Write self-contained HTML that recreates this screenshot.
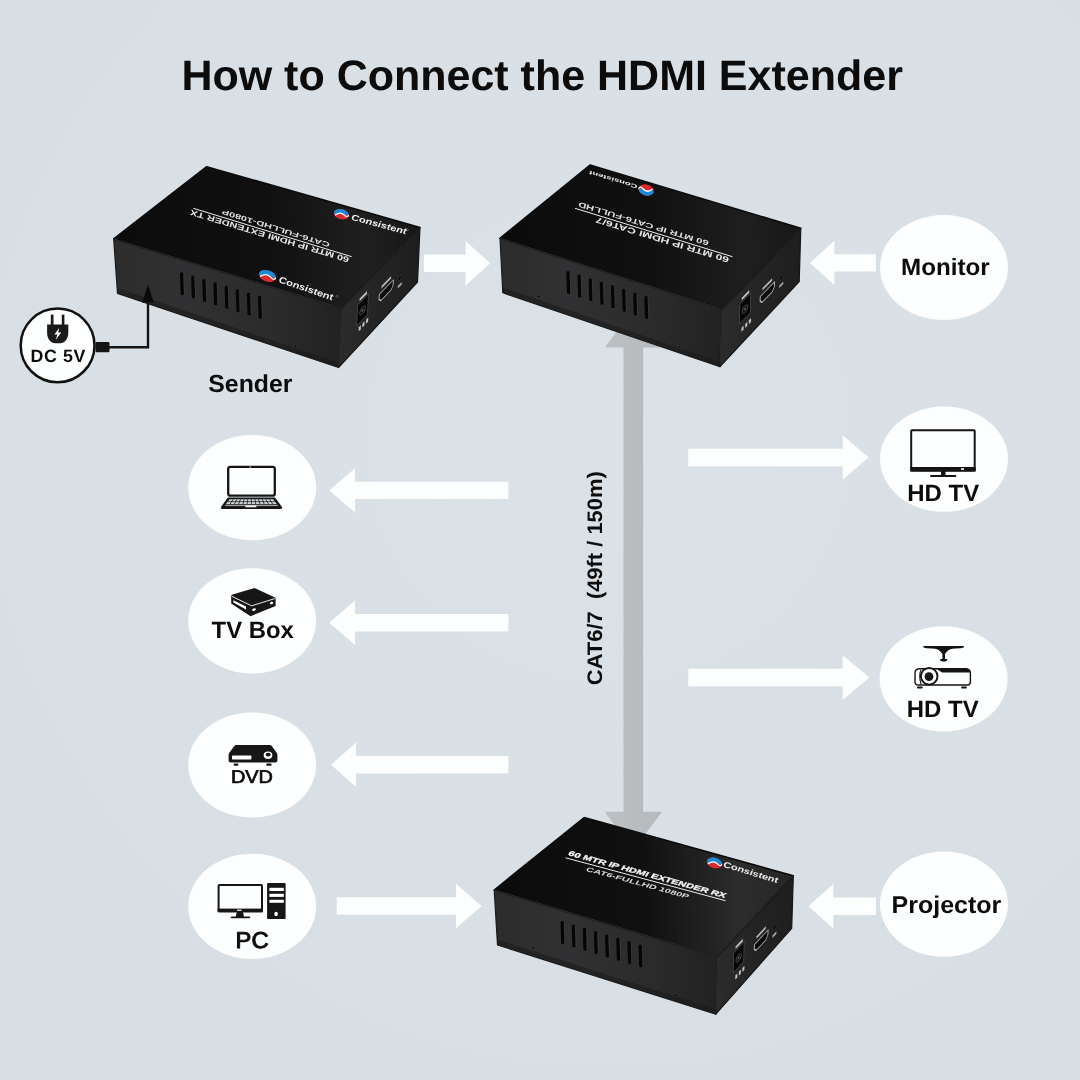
<!DOCTYPE html>
<html><head><meta charset="utf-8"><title>How to Connect the HDMI Extender</title>
<style>
html,body{margin:0;padding:0;background:#d9e0e5;}
body{width:1080px;height:1080px;overflow:hidden;font-family:"Liberation Sans",sans-serif;}
svg{display:block;will-change:opacity;opacity:0.9999}
text{text-rendering:geometricPrecision}
text{font-family:"Liberation Sans",sans-serif;}
.b{font-weight:700;fill:#0c0c0c}
</style></head><body>
<svg width="1080" height="1080" viewBox="0 0 1080 1080">
<defs>
<radialGradient id="bg" gradientUnits="userSpaceOnUse" cx="610" cy="440" r="880">
<stop offset="0" stop-color="#dbe2e7"/><stop offset="0.6" stop-color="#d9e0e5"/><stop offset="1" stop-color="#d6dde3"/></radialGradient>
<linearGradient id="gFront" x1="0" y1="0" x2="1" y2="0"><stop offset="0" stop-color="#2c2c2d"/><stop offset="0.3" stop-color="#313133"/><stop offset="0.7" stop-color="#2b2b2c"/><stop offset="1" stop-color="#222223"/></linearGradient>
<linearGradient id="gRight" x1="0" y1="0" x2="1" y2="0"><stop offset="0" stop-color="#2c2c2d"/><stop offset="0.5" stop-color="#242425"/><stop offset="1" stop-color="#1e1e1f"/></linearGradient>
<linearGradient id="gCable" x1="0" y1="0" x2="1" y2="0"><stop offset="0" stop-color="#bcc0c2"/><stop offset="1" stop-color="#b5b9bb"/></linearGradient>

<linearGradient id="gTop_tx" gradientUnits="userSpaceOnUse" x1="113.7" y1="239" x2="420" y2="227.5"><stop offset="0" stop-color="#0b0b0c"/><stop offset="0.5" stop-color="#101011"/><stop offset="0.82" stop-color="#1f1f20"/><stop offset="1" stop-color="#171718"/></linearGradient>
<linearGradient id="gTop_rx1" gradientUnits="userSpaceOnUse" x1="500" y1="238.3" x2="800.8" y2="228.3"><stop offset="0" stop-color="#0b0b0c"/><stop offset="0.5" stop-color="#101011"/><stop offset="0.82" stop-color="#1f1f20"/><stop offset="1" stop-color="#171718"/></linearGradient>
<linearGradient id="gTop_rx2" gradientUnits="userSpaceOnUse" x1="494.2" y1="890" x2="793.3" y2="875.8"><stop offset="0" stop-color="#0b0b0c"/><stop offset="0.5" stop-color="#101011"/><stop offset="0.82" stop-color="#2c2c2d"/><stop offset="1" stop-color="#262627"/></linearGradient>
</defs>
<rect width="1080" height="1080" fill="url(#bg)"/>
<text class="b" x="181.4" y="90.2" font-size="42.6" textLength="721.5" lengthAdjust="spacingAndGlyphs">How to Connect the HDMI Extender</text>
<polygon fill="url(#gCable)" points="633.3,309 661.8,347.6 643.1,347.6 643.1,811.7 662.1,811.7 633.3,850 604.5,811.7 623.5,811.7 623.5,347.6 604.8,347.6"/>
<g fill="#fdfefe">
<polygon points="490.2,263.2 465.6,241 465.6,254.5 423.9,254.5 423.9,271.9 465.6,271.9 465.6,285.4"/>
<polygon points="810,262.9 834.3,240.7 834.3,254.2 875.8,254.2 875.8,271.6 834.3,271.6 834.3,285.1"/>
<polygon points="329.3,490.4 355,468.2 355,481.7 508.3,481.7 508.3,499.1 355,499.1 355,512.6"/>
<polygon points="329.3,622.8 355,600.6 355,614.1 508.3,614.1 508.3,631.5 355,631.5 355,645"/>
<polygon points="331,764.8 356,742.6 356,756.1 508.3,756.1 508.3,773.5 356,773.5 356,787"/>
<polygon points="481.7,906 456,883.8 456,897.3 336.7,897.3 336.7,914.7 456,914.7 456,928.2"/>
<polygon points="868.5,457.5 842.7,435.3 842.7,448.8 688.3,448.8 688.3,466.2 842.7,466.2 842.7,479.7"/>
<polygon points="869.3,677.5 842.7,655.3 842.7,668.8 688.3,668.8 688.3,686.2 842.7,686.2 842.7,699.7"/>
<polygon points="808.3,906.2 833.3,884 833.3,897.5 876,897.5 876,914.9 833.3,914.9 833.3,928.4"/>
<ellipse cx="252.2" cy="487.7" rx="64" ry="52.6"/>
<ellipse cx="252.2" cy="620.8" rx="64" ry="52.6"/>
<ellipse cx="252.2" cy="765" rx="64" ry="52.6"/>
<ellipse cx="252.2" cy="906.3" rx="64" ry="52.6"/>
<ellipse cx="944" cy="267.5" rx="64" ry="52.6"/>
<ellipse cx="944" cy="459.2" rx="64" ry="52.6"/>
<ellipse cx="943.6" cy="678.8" rx="64" ry="52.6"/>
<ellipse cx="944" cy="904.2" rx="64" ry="52.6"/>
</g>
<g>
<polyline points="104,347.2 148,347.2 148,300" fill="none" stroke="#141414" stroke-width="2.4" stroke-linejoin="miter"/>
<rect x="95.5" y="342.1" width="14" height="10.2" rx="1.2" fill="#141414"/>
<circle cx="57.6" cy="345.4" r="36.9" fill="#fdfefe" stroke="#111" stroke-width="2.5"/>
<g fill="#1a1a1a"><rect x="50.8" y="314.6" width="2.7" height="11" /><rect x="61.8" y="314.6" width="2.6" height="11"/><path d="M47.1 324.6 H68.3 V333 C68.3 339.5 64 343.3 60.5 343.3 H55 C51.3 343.3 47.1 339.5 47.1 333 Z"/></g>
<path d="M59.2 328 L54.4 334.6 H57.4 L55.8 339.8 L61.2 332.6 H58.2 Z" fill="#fff"/>
<text class="b" x="30.4" y="361.9" font-size="17.8" textLength="55" lengthAdjust="spacing">DC 5V</text>
</g>
<g id="tx">
<polygon points="113.7,239 341.5,308 338.5,367.5 117.5,293.5" fill="url(#gFront)" stroke="#1c1c1d" stroke-width="1.2" stroke-linejoin="round"/>
<polygon points="341.5,308 420,227.5 417.5,282 338.5,367.5" fill="url(#gRight)" stroke="#151516" stroke-width="1.2" stroke-linejoin="round"/>
<polygon points="206.7,166.7 420,227.5 341.5,308 113.7,239" fill="url(#gTop_tx)" stroke="#0b0b0c" stroke-width="1.6" stroke-linejoin="round"/>
<polyline points="113.7,239 341.5,308 420,227.5" fill="none" stroke="#3a3a3c" stroke-width="0.9" stroke-linejoin="round" opacity="0.9"/>
<line x1="341.5" y1="309" x2="338.5" y2="366.5" stroke="#333335" stroke-width="0.8"/>
<polygon points="117.12,288.05 338.74,362.74 338.5,367.5 117.5,293.5" fill="#19191a" opacity="0.55"/>
<line x1="181.7" y1="273.9" x2="182.3" y2="293.5" stroke="#050505" stroke-width="3.4" stroke-linecap="round"/>
<line x1="183.8" y1="274.2" x2="184.4" y2="293.2" stroke="#3f3f41" stroke-width="0.6" stroke-linecap="round"/>
<line x1="192.85" y1="277.27" x2="193.45" y2="296.87" stroke="#050505" stroke-width="3.4" stroke-linecap="round"/>
<line x1="194.95" y1="277.57" x2="195.55" y2="296.57" stroke="#3f3f41" stroke-width="0.6" stroke-linecap="round"/>
<line x1="204" y1="280.65" x2="204.6" y2="300.25" stroke="#050505" stroke-width="3.4" stroke-linecap="round"/>
<line x1="206.1" y1="280.95" x2="206.7" y2="299.95" stroke="#3f3f41" stroke-width="0.6" stroke-linecap="round"/>
<line x1="215.15" y1="284.03" x2="215.75" y2="303.63" stroke="#050505" stroke-width="3.4" stroke-linecap="round"/>
<line x1="217.25" y1="284.33" x2="217.85" y2="303.33" stroke="#3f3f41" stroke-width="0.6" stroke-linecap="round"/>
<line x1="226.3" y1="287.41" x2="226.9" y2="307.01" stroke="#050505" stroke-width="3.4" stroke-linecap="round"/>
<line x1="228.4" y1="287.71" x2="229" y2="306.71" stroke="#3f3f41" stroke-width="0.6" stroke-linecap="round"/>
<line x1="237.45" y1="290.78" x2="238.05" y2="310.38" stroke="#050505" stroke-width="3.4" stroke-linecap="round"/>
<line x1="239.55" y1="291.08" x2="240.15" y2="310.08" stroke="#3f3f41" stroke-width="0.6" stroke-linecap="round"/>
<line x1="248.6" y1="294.16" x2="249.2" y2="313.76" stroke="#050505" stroke-width="3.4" stroke-linecap="round"/>
<line x1="250.7" y1="294.46" x2="251.3" y2="313.46" stroke="#3f3f41" stroke-width="0.6" stroke-linecap="round"/>
<line x1="259.75" y1="297.54" x2="260.35" y2="317.14" stroke="#050505" stroke-width="3.4" stroke-linecap="round"/>
<line x1="261.85" y1="297.84" x2="262.45" y2="316.84" stroke="#3f3f41" stroke-width="0.6" stroke-linecap="round"/>
<circle cx="295.61" cy="346.05" r="1.6" fill="#0c0c0c" stroke="#454547" stroke-width="0.6"/>
<g transform="matrix(0.785 -0.805 -0.05 0.9917 341.5 308)">
<g transform="translate(0 0)">
<rect x="21.5" y="14.5" width="13.8" height="21" rx="1" fill="#070707" stroke="#4a4a4d" stroke-width="1"/>
<circle cx="28.4" cy="25.5" r="3.6" fill="#131314" stroke="#4c4c50" stroke-width="0.8"/>
<circle cx="28.4" cy="25.5" r="1.1" fill="#77777b"/>
<rect x="23.8" y="9.8" width="9.4" height="2.8" fill="#c4c4c4"/>
<rect x="24.6" y="39.3" width="2.6" height="4.2" fill="#c8c8c8"/>
<rect x="29.3" y="39.3" width="2.6" height="4.2" fill="#c8c8c8"/>
<rect x="34" y="39.3" width="2.6" height="4.2" fill="#c8c8c8"/>
</g>
<g transform="translate(0 0)">
<path d="M49.8 26.8 h18 v4.8 l-2.6 3.4 h-12.8 l-2.6 -3.4 z" fill="#090909" stroke="#b4b4b8" stroke-width="1.25" stroke-linejoin="round"/>
<rect x="52.4" y="20.2" width="12.2" height="2.6" fill="#b8b8b8"/>
</g>
<g transform="translate(0 0)">
<circle cx="76.4" cy="31.8" r="2.3" fill="#070707" stroke="#363638" stroke-width="0.7"/>
<rect x="74.2" y="38" width="5" height="2.6" fill="#b0b0b0"/>
</g>
</g>
<line x1="193.3" y1="208.3" x2="351.7" y2="256.7" stroke="#ececec" stroke-width="1"/>
<text transform="matrix(-0.9573 -0.2891 0.2707 -0.9627 349.56 257.5)" x="0" y="0" font-size="7.68" font-weight="700" fill="#e6e6e6" textLength="165.36" lengthAdjust="spacingAndGlyphs">60 MTR IP HDMI EXTENDER TX</text>
<text transform="matrix(-0.955 -0.2967 0.2707 -0.9627 330.18 242.79)" x="0" y="0" font-size="6.86" font-weight="700" fill="#dedede" textLength="112.57" lengthAdjust="spacingAndGlyphs">CAT6-FULLHD-1080P</text>
<g transform="translate(341.3 214.2) rotate(15)">
<ellipse cx="0" cy="0" rx="7.6" ry="5" fill="#dc2a2e"/>
<path d="M-7.6 0.4 A7.6 5 0 0 1 7.6 -0.4 Q4.56 -0.75 2.28 -0.5 Q-1.14 -1.75 -4.18 1.5 Q-6.08 2.25 -7.6 0.4 Z" fill="#1a8bd6"/>
<path d="M-5.47 2.1 Q-1.52 -2.5 2.66 -0.1 T7.22 -0.5" stroke="#fff" stroke-width="1.2" fill="none" stroke-linecap="round"/>
</g>
<text transform="matrix(0.9656 0.2598 -0.1595 0.9872 351.01 219.66)" x="0" y="0" font-size="8.5" font-weight="700" font-style="italic" fill="#f2f2f2" textLength="56.96" lengthAdjust="spacingAndGlyphs">Consistent</text>
<g transform="translate(267.4 276) rotate(19)">
<ellipse cx="0" cy="0" rx="8.8" ry="5.6" fill="#dc2a2e"/>
<path d="M-8.8 0.4 A8.8 5.6 0 0 1 8.8 -0.4 Q5.28 -0.84 2.64 -0.56 Q-1.32 -1.96 -4.84 1.68 Q-7.04 2.52 -8.8 0.4 Z" fill="#1a8bd6"/>
<path d="M-6.34 2.35 Q-1.76 -2.8 3.08 -0.11 T8.36 -0.56" stroke="#fff" stroke-width="1.34" fill="none" stroke-linecap="round"/>
</g>
<text transform="matrix(0.9466 0.3225 -0.1595 0.9872 278.47 282.16)" x="0" y="0" font-size="9.05" font-weight="700" font-style="italic" fill="#f2f2f2" textLength="57.05" lengthAdjust="spacingAndGlyphs">Consistent</text>
<circle cx="407.5" cy="229.8" r="1" fill="none" stroke="#bbb" stroke-width="0.3"/>
<circle cx="337" cy="296.3" r="1" fill="none" stroke="#bbb" stroke-width="0.3"/>
</g>
<polygon points="148,284.8 153.9,302.6 142.3,302.6" fill="#0a0a0a"/>
<g id="rx1">
<polygon points="500,238.3 721.7,309.1 720,366.7 502.8,292.8" fill="url(#gFront)" stroke="#1c1c1d" stroke-width="1.2" stroke-linejoin="round"/>
<polygon points="721.7,309.1 800.8,228.3 799.2,281.7 720,366.7" fill="url(#gRight)" stroke="#151516" stroke-width="1.2" stroke-linejoin="round"/>
<polygon points="590,165 800.8,228.3 721.7,309.1 500,238.3" fill="url(#gTop_rx1)" stroke="#0b0b0c" stroke-width="1.6" stroke-linejoin="round"/>
<polyline points="500,238.3 721.7,309.1 800.8,228.3" fill="none" stroke="#3a3a3c" stroke-width="0.9" stroke-linejoin="round" opacity="0.9"/>
<line x1="721.7" y1="310.1" x2="720" y2="365.7" stroke="#333335" stroke-width="0.8"/>
<polygon points="502.52,287.35 720.14,362.09 720,366.7 502.8,292.8" fill="#19191a" opacity="0.55"/>
<line x1="568" y1="272.72" x2="568.6" y2="292.32" stroke="#050505" stroke-width="3.4" stroke-linecap="round"/>
<line x1="570.1" y1="273.02" x2="570.7" y2="292.02" stroke="#3f3f41" stroke-width="0.6" stroke-linecap="round"/>
<line x1="579.15" y1="276.28" x2="579.75" y2="295.88" stroke="#050505" stroke-width="3.4" stroke-linecap="round"/>
<line x1="581.25" y1="276.58" x2="581.85" y2="295.58" stroke="#3f3f41" stroke-width="0.6" stroke-linecap="round"/>
<line x1="590.3" y1="279.84" x2="590.9" y2="299.44" stroke="#050505" stroke-width="3.4" stroke-linecap="round"/>
<line x1="592.4" y1="280.14" x2="593" y2="299.14" stroke="#3f3f41" stroke-width="0.6" stroke-linecap="round"/>
<line x1="601.45" y1="283.4" x2="602.05" y2="303" stroke="#050505" stroke-width="3.4" stroke-linecap="round"/>
<line x1="603.55" y1="283.7" x2="604.15" y2="302.7" stroke="#3f3f41" stroke-width="0.6" stroke-linecap="round"/>
<line x1="612.6" y1="286.96" x2="613.2" y2="306.56" stroke="#050505" stroke-width="3.4" stroke-linecap="round"/>
<line x1="614.7" y1="287.26" x2="615.3" y2="306.26" stroke="#3f3f41" stroke-width="0.6" stroke-linecap="round"/>
<line x1="623.75" y1="290.52" x2="624.35" y2="310.12" stroke="#050505" stroke-width="3.4" stroke-linecap="round"/>
<line x1="625.85" y1="290.82" x2="626.45" y2="309.82" stroke="#3f3f41" stroke-width="0.6" stroke-linecap="round"/>
<line x1="634.9" y1="294.08" x2="635.5" y2="313.68" stroke="#050505" stroke-width="3.4" stroke-linecap="round"/>
<line x1="637" y1="294.38" x2="637.6" y2="313.38" stroke="#3f3f41" stroke-width="0.6" stroke-linecap="round"/>
<line x1="646.05" y1="297.64" x2="646.65" y2="317.24" stroke="#050505" stroke-width="3.4" stroke-linecap="round"/>
<line x1="648.15" y1="297.94" x2="648.75" y2="316.94" stroke="#3f3f41" stroke-width="0.6" stroke-linecap="round"/>
<circle cx="538.53" cy="296.27" r="1.6" fill="#0c0c0c" stroke="#454547" stroke-width="0.6"/>
<circle cx="679.91" cy="346.76" r="1.6" fill="#0c0c0c" stroke="#454547" stroke-width="0.6"/>
<g transform="matrix(0.791 -0.808 -0.0283 0.96 721.7 309.1)">
<g transform="translate(2 0)">
<rect x="21.5" y="14.5" width="13.8" height="21" rx="1" fill="#070707" stroke="#4a4a4d" stroke-width="1"/>
<circle cx="28.4" cy="25.5" r="3.6" fill="#131314" stroke="#4c4c50" stroke-width="0.8"/>
<circle cx="28.4" cy="25.5" r="1.1" fill="#77777b"/>
<rect x="23.8" y="9.8" width="9.4" height="2.8" fill="#c4c4c4"/>
<rect x="24.6" y="41.8" width="2.6" height="4.2" fill="#c8c8c8"/>
<rect x="29.3" y="41.8" width="2.6" height="4.2" fill="#c8c8c8"/>
<rect x="34" y="41.8" width="2.6" height="4.2" fill="#c8c8c8"/>
</g>
<g transform="translate(0 2)">
<path d="M49.8 26.8 h18 v4.8 l-2.6 3.4 h-12.8 l-2.6 -3.4 z" fill="#090909" stroke="#b4b4b8" stroke-width="1.25" stroke-linejoin="round"/>
<rect x="52.4" y="20.2" width="12.2" height="2.6" fill="#b8b8b8"/>
</g>
<g transform="translate(0 0)">
<circle cx="76.4" cy="31.8" r="2.3" fill="#070707" stroke="#363638" stroke-width="0.7"/>
<rect x="74.2" y="38" width="5" height="2.6" fill="#b0b0b0"/>
</g>
</g>
<line x1="575" y1="208.3" x2="732.5" y2="256.7" stroke="#ececec" stroke-width="1"/>
<text transform="matrix(-0.9567 -0.291 0.2707 -0.9627 729.59 257.41)" x="0" y="0" font-size="7.96" font-weight="700" fill="#e6e6e6" textLength="138.81" lengthAdjust="spacingAndGlyphs">60 MTR IP HDMI CAT6/7</text>
<text transform="matrix(-0.9573 -0.289 0.2707 -0.9627 709.2 241.1)" x="0" y="0" font-size="7.13" font-weight="700" fill="#dedede" textLength="136" lengthAdjust="spacingAndGlyphs">60 MTR IP CAT6-FULLHD</text>
<g transform="translate(646.1 190) rotate(17) scale(-1,-1)">
<ellipse cx="0" cy="0" rx="7.8" ry="5.4" fill="#dc2a2e"/>
<path d="M-7.8 0.4 A7.8 5.4 0 0 1 7.8 -0.4 Q4.68 -0.81 2.34 -0.54 Q-1.17 -1.89 -4.29 1.62 Q-6.24 2.43 -7.8 0.4 Z" fill="#1a8bd6"/>
<path d="M-5.62 2.27 Q-1.56 -2.7 2.73 -0.11 T7.41 -0.54" stroke="#fff" stroke-width="1.3" fill="none" stroke-linecap="round"/>
</g>
<text transform="matrix(-0.9584 -0.2855 0.2707 -0.9627 637.73 184.92)" x="0" y="0" font-size="5.35" font-weight="700" fill="#f2f2f2" textLength="50.08" lengthAdjust="spacingAndGlyphs">Consistent</text>
</g>
<g id="rx2">
<polygon points="494.2,890 717.5,956.7 715.8,1014.2 497.5,945" fill="url(#gFront)" stroke="#1c1c1d" stroke-width="1.2" stroke-linejoin="round"/>
<polygon points="717.5,956.7 793.3,875.8 791.7,928.3 715.8,1014.2" fill="url(#gRight)" stroke="#151516" stroke-width="1.2" stroke-linejoin="round"/>
<polygon points="584.2,817.5 793.3,875.8 717.5,956.7 494.2,890" fill="url(#gTop_rx2)" stroke="#0b0b0c" stroke-width="1.6" stroke-linejoin="round"/>
<polyline points="494.2,890 717.5,956.7 793.3,875.8" fill="none" stroke="#3a3a3c" stroke-width="0.9" stroke-linejoin="round" opacity="0.9"/>
<line x1="717.5" y1="957.7" x2="715.8" y2="1013.2" stroke="#333335" stroke-width="0.8"/>
<polygon points="497.17,939.5 715.94,1009.6 715.8,1014.2 497.5,945" fill="#19191a" opacity="0.55"/>
<line x1="562.2" y1="922.81" x2="562.8" y2="942.41" stroke="#050505" stroke-width="3.4" stroke-linecap="round"/>
<line x1="564.3" y1="923.11" x2="564.9" y2="942.11" stroke="#3f3f41" stroke-width="0.6" stroke-linecap="round"/>
<line x1="573.35" y1="926.14" x2="573.95" y2="945.74" stroke="#050505" stroke-width="3.4" stroke-linecap="round"/>
<line x1="575.45" y1="926.44" x2="576.05" y2="945.44" stroke="#3f3f41" stroke-width="0.6" stroke-linecap="round"/>
<line x1="584.5" y1="929.47" x2="585.1" y2="949.07" stroke="#050505" stroke-width="3.4" stroke-linecap="round"/>
<line x1="586.6" y1="929.77" x2="587.2" y2="948.77" stroke="#3f3f41" stroke-width="0.6" stroke-linecap="round"/>
<line x1="595.65" y1="932.8" x2="596.25" y2="952.4" stroke="#050505" stroke-width="3.4" stroke-linecap="round"/>
<line x1="597.75" y1="933.1" x2="598.35" y2="952.1" stroke="#3f3f41" stroke-width="0.6" stroke-linecap="round"/>
<line x1="606.8" y1="936.13" x2="607.4" y2="955.73" stroke="#050505" stroke-width="3.4" stroke-linecap="round"/>
<line x1="608.9" y1="936.43" x2="609.5" y2="955.43" stroke="#3f3f41" stroke-width="0.6" stroke-linecap="round"/>
<line x1="617.95" y1="939.46" x2="618.55" y2="959.06" stroke="#050505" stroke-width="3.4" stroke-linecap="round"/>
<line x1="620.05" y1="939.76" x2="620.65" y2="958.76" stroke="#3f3f41" stroke-width="0.6" stroke-linecap="round"/>
<line x1="629.1" y1="942.79" x2="629.7" y2="962.39" stroke="#050505" stroke-width="3.4" stroke-linecap="round"/>
<line x1="631.2" y1="943.09" x2="631.8" y2="962.09" stroke="#3f3f41" stroke-width="0.6" stroke-linecap="round"/>
<line x1="640.25" y1="946.13" x2="640.85" y2="965.73" stroke="#050505" stroke-width="3.4" stroke-linecap="round"/>
<line x1="642.35" y1="946.43" x2="642.95" y2="965.43" stroke="#3f3f41" stroke-width="0.6" stroke-linecap="round"/>
<circle cx="533.34" cy="947.62" r="1.6" fill="#0c0c0c" stroke="#454547" stroke-width="0.6"/>
<circle cx="675.5" cy="995.12" r="1.6" fill="#0c0c0c" stroke="#454547" stroke-width="0.6"/>
<g transform="matrix(0.758 -0.809 -0.0283 0.9583 717.5 956.7)">
<g transform="translate(0.5 0)">
<rect x="21.5" y="14.5" width="13.8" height="21" rx="1" fill="#070707" stroke="#4a4a4d" stroke-width="1"/>
<circle cx="28.4" cy="25.5" r="3.6" fill="#131314" stroke="#4c4c50" stroke-width="0.8"/>
<circle cx="28.4" cy="25.5" r="1.1" fill="#77777b"/>
<rect x="23.8" y="9.8" width="9.4" height="2.8" fill="#c4c4c4"/>
<rect x="24.6" y="40.8" width="2.6" height="4.2" fill="#c8c8c8"/>
<rect x="29.3" y="40.8" width="2.6" height="4.2" fill="#c8c8c8"/>
<rect x="34" y="40.8" width="2.6" height="4.2" fill="#c8c8c8"/>
</g>
<g transform="translate(0 2.6)">
<path d="M49.8 26.8 h18 v4.8 l-2.6 3.4 h-12.8 l-2.6 -3.4 z" fill="#090909" stroke="#b4b4b8" stroke-width="1.25" stroke-linejoin="round"/>
<rect x="52.4" y="20.2" width="12.2" height="2.6" fill="#b8b8b8"/>
</g>
<g transform="translate(0 2.4)">
<circle cx="76.4" cy="31.8" r="2.3" fill="#070707" stroke="#363638" stroke-width="0.7"/>
<rect x="74.2" y="38" width="5" height="2.6" fill="#b0b0b0"/>
</g>
</g>
<line x1="565.6" y1="857.8" x2="725.6" y2="900.7" stroke="#ececec" stroke-width="1"/>
<text transform="matrix(0.9648 0.263 -0.5524 0.8336 567.51 855.05)" x="0" y="0" font-size="7.41" font-weight="700" fill="#f4f4f4" stroke="#f4f4f4" stroke-width="0.3" textLength="162.73" lengthAdjust="spacingAndGlyphs">60 MTR IP HDMI EXTENDER RX</text>
<text transform="matrix(0.9648 0.2631 -0.5524 0.8336 585.37 870.7)" x="0" y="0" font-size="6.58" font-weight="700" fill="#dedede" textLength="106.04" lengthAdjust="spacingAndGlyphs">CAT6-FULLHD 1080P</text>
<g transform="translate(714.4 863) rotate(16)">
<ellipse cx="0" cy="0" rx="7.8" ry="5.2" fill="#dc2a2e"/>
<path d="M-7.8 0.4 A7.8 5.2 0 0 1 7.8 -0.4 Q4.68 -0.78 2.34 -0.52 Q-1.17 -1.82 -4.29 1.56 Q-6.24 2.34 -7.8 0.4 Z" fill="#1a8bd6"/>
<path d="M-5.62 2.18 Q-1.56 -2.6 2.73 -0.1 T7.41 -0.52" stroke="#fff" stroke-width="1.25" fill="none" stroke-linecap="round"/>
</g>
<text transform="matrix(0.957 0.2903 -0.1595 0.9872 723.12 866.76)" x="0" y="0" font-size="8.23" font-weight="700" font-style="italic" fill="#f2f2f2" textLength="56.85" lengthAdjust="spacingAndGlyphs">Consistent</text>
</g>
<text class="b" x="208.3" y="391.9" font-size="24.6" textLength="84.2" lengthAdjust="spacingAndGlyphs">Sender</text>
<text class="b" x="901" y="275" font-size="23.6" textLength="88.6" lengthAdjust="spacingAndGlyphs">Monitor</text>
<text class="b" x="907.3" y="500.9" font-size="23.6" textLength="71.8" lengthAdjust="spacingAndGlyphs">HD TV</text>
<text class="b" x="906.8" y="717.4" font-size="23.6" textLength="71.8" lengthAdjust="spacingAndGlyphs">HD TV</text>
<text class="b" x="891.6" y="913" font-size="24.3" textLength="109.6" lengthAdjust="spacingAndGlyphs">Projector</text>
<text class="b" x="211.6" y="638.3" font-size="23.6" textLength="82.2" lengthAdjust="spacingAndGlyphs">TV Box</text>
<text x="231" y="782.8" font-size="18.4" fill="#0c0c0c" stroke="#0c0c0c" stroke-width="0.7" textLength="42" lengthAdjust="spacingAndGlyphs">DVD</text>
<text x="235.6" y="948.3" font-size="22.8" fill="#0c0c0c" stroke="#0c0c0c" stroke-width="0.95" textLength="33" lengthAdjust="spacingAndGlyphs">PC</text>
<text class="b" transform="translate(601.9 685.2) rotate(-90)" x="0" y="0" font-size="21" textLength="214" lengthAdjust="spacingAndGlyphs" style="white-space:pre">CAT6/7  (49ft / 150m)</text>
<g><rect x="228.2" y="466.8" width="46.6" height="28.8" rx="2.2" fill="#fdfefe" stroke="#151515" stroke-width="2.3"/><path d="M227.8 497.6 H275 L282 507 Q282.4 509 280.5 509 H222.5 Q220.5 509 221 507 Z" fill="#151515"/><path d="M229.6 499.2 H273.2 L277 504.2 H225.8 Z" fill="#cfd3d6"/><path d="M225 505.6 H278" stroke="#f4f4f4" stroke-width="0.7"/><rect x="245.4" y="505.4" width="11" height="1.9" rx="0.6" fill="#f6f6f6"/><circle cx="250.2" cy="467" r="0.7" fill="#ddd"/>
<line x1="233.23" y1="499.2" x2="230.07" y2="504.2" stroke="#151515" stroke-width="0.8"/>
<line x1="236.86" y1="499.2" x2="234.34" y2="504.2" stroke="#151515" stroke-width="0.8"/>
<line x1="240.49" y1="499.2" x2="238.61" y2="504.2" stroke="#151515" stroke-width="0.8"/>
<line x1="244.12" y1="499.2" x2="242.88" y2="504.2" stroke="#151515" stroke-width="0.8"/>
<line x1="247.75" y1="499.2" x2="247.15" y2="504.2" stroke="#151515" stroke-width="0.8"/>
<line x1="251.38" y1="499.2" x2="251.42" y2="504.2" stroke="#151515" stroke-width="0.8"/>
<line x1="255.01" y1="499.2" x2="255.69" y2="504.2" stroke="#151515" stroke-width="0.8"/>
<line x1="258.64" y1="499.2" x2="259.96" y2="504.2" stroke="#151515" stroke-width="0.8"/>
<line x1="262.27" y1="499.2" x2="264.23" y2="504.2" stroke="#151515" stroke-width="0.8"/>
<line x1="265.9" y1="499.2" x2="268.5" y2="504.2" stroke="#151515" stroke-width="0.8"/>
<line x1="269.53" y1="499.2" x2="272.77" y2="504.2" stroke="#151515" stroke-width="0.8"/>
<line x1="227.8" y1="501.6" x2="275.2" y2="501.6" stroke="#151515" stroke-width="0.7"/></g>
<g><path d="M254.6 588 L275 597.6 Q275.8 598.2 275.6 599.4 V606 L250.5 616.2 L231.2 603.4 V596.6 Q231 595.4 232.6 594.6 Z" fill="#161616"/><path d="M232 596.4 L251.6 605.8 L274.8 598.6" fill="none" stroke="#fdfefe" stroke-width="0.9"/><path d="M233.4 600.2 L246 606.6 V609.6 L233.4 602.6 Z" fill="#fdfefe"/><ellipse cx="254" cy="609.6" rx="2" ry="1.3" fill="#fdfefe" transform="rotate(-20 254 609.6)"/><ellipse cx="271.6" cy="603" rx="1.7" ry="1.2" fill="#fdfefe" transform="rotate(-20 271.6 603)"/></g>
<g><path d="M236.2 745 H269.8 Q271 745 271.8 746 L276.8 753 Q277.4 754 277.4 755 V760.6 Q277.4 762.6 275.4 762.6 H230.6 Q228.6 762.6 228.6 760.6 V755 Q228.6 754 229.2 753 L234.2 746 Q235 745 236.2 745 Z" fill="#161616"/><rect x="232" y="755.6" width="19.4" height="3.8" rx="0.6" fill="#fdfefe"/><ellipse cx="268" cy="755.2" rx="4.3" ry="3.7" fill="#fdfefe"/><ellipse cx="268.2" cy="754.6" rx="2.5" ry="1.9" fill="#161616"/><rect x="233.6" y="763.6" width="4.8" height="2.2" rx="1" fill="#161616"/><rect x="266.2" y="763.6" width="5.4" height="2.2" rx="1" fill="#161616"/></g>
<g><rect x="218.6" y="884.9" width="43.4" height="26.4" rx="0.8" fill="#fdfefe" stroke="#161616" stroke-width="2"/><rect x="217.6" y="908.6" width="45.4" height="3.7" fill="#161616"/><rect x="237" y="909.6" width="4.6" height="1.2" fill="#fdfefe"/><path d="M236.8 912 H243 L244 916.4 H249.4 Q250.2 916.4 250.2 917.3 Q250.2 918.3 249.4 918.3 H231.6 Q230.8 918.3 230.8 917.3 Q230.8 916.4 231.6 916.4 H235.8 Z" fill="#161616"/><rect x="267.1" y="883.1" width="18.5" height="36" rx="1.2" fill="#161616"/><rect x="269.4" y="887.8" width="14.4" height="3.2" fill="#fdfefe"/><rect x="269.4" y="893.8" width="14.4" height="3.1" fill="#fdfefe"/><rect x="269.4" y="899.8" width="14.4" height="3" fill="#fdfefe"/><ellipse cx="276.1" cy="913.9" rx="1.8" ry="2.2" fill="#fdfefe"/></g>
<g><rect x="911.2" y="430.3" width="63.5" height="40.3" rx="0.8" fill="#fdfefe" stroke="#141414" stroke-width="2"/><rect x="910.2" y="467" width="65.5" height="4.6" fill="#141414"/><rect x="961" y="468.2" width="3" height="1.6" fill="#fdfefe"/><rect x="941" y="471" width="4.5" height="4.6" fill="#141414"/><rect x="930.2" y="475.1" width="26" height="1.9" rx="0.6" fill="#141414"/></g>
<g><path d="M923.4 646 H963.8 V647.4 Q962 648.2 955 648.4 Q949.5 648.8 947.6 651 Q945.6 653.2 945 654 V659 H947.4 Q947.2 661.6 943.8 661.6 Q940.2 661.6 940 659 H942.4 V654 Q941.8 653.2 939.8 651 Q937.8 648.8 932.4 648.4 Q925.2 648.2 923.4 647.4 Z" fill="#141414"/><path d="M918.6 668.8 H966.6 Q970.4 669.6 970.4 673 V682 Q970.4 685 967.4 685 H918.4 Q915 685 915 682 V673 Q915 669.6 918.6 668.8 Z" fill="#fdfefe" stroke="#141414" stroke-width="1.4"/><path d="M936 668.4 H965.6 Q969.2 669.2 970 672.4 H942 Z" fill="#141414"/><path d="M921 669.6 Q918.4 676 921 684" fill="none" stroke="#141414" stroke-width="1.1"/><circle cx="929.2" cy="676.3" r="8.3" fill="#fdfefe" stroke="#141414" stroke-width="1.9"/><circle cx="929" cy="676.6" r="4.4" fill="#141414"/><rect x="917" y="686.4" width="5.6" height="2" rx="0.6" fill="#141414"/><rect x="961.2" y="686.4" width="5.6" height="2" rx="0.6" fill="#141414"/></g>
</svg></body></html>
